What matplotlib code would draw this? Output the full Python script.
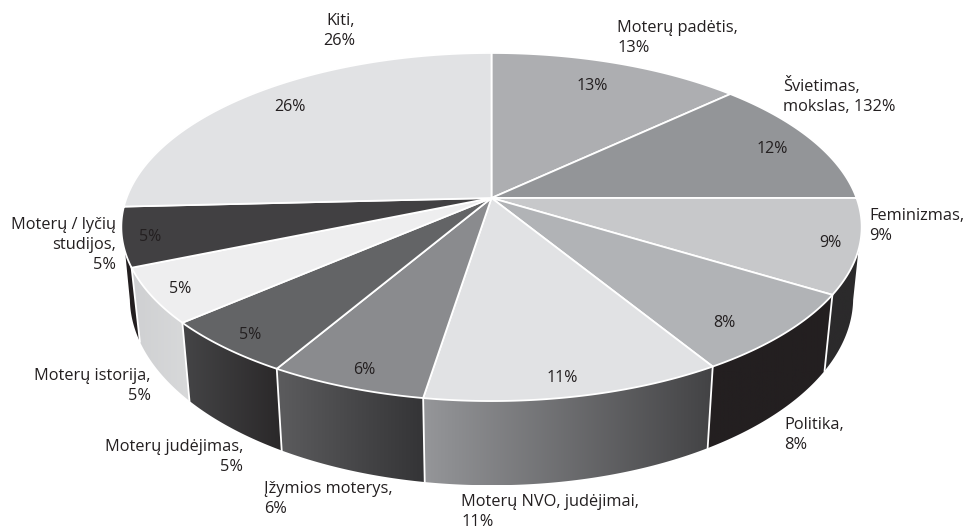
import numpy as np
import matplotlib
matplotlib.use('Agg')
import matplotlib.pyplot as plt
from matplotlib.patches import Polygon

plt.rcParams['font.family'] = ['Open Sans', 'DejaVu Sans']

# printed labels
names = ['Moterų padėtis,\n13%', 'Švietimas,\nmokslas, 132%', 'Feminizmas,\n9%',
         'Politika,\n8%', 'Moterų NVO, judėjimai,\n11%', 'Įžymios moterys,\n6%',
         'Moterų judėjimas,\n5%', 'Moterų istorija,\n5%', 'Moterų / lyčių\nstudijos,\n5%',
         'Kiti,\n26%']
inner = ['13%', '12%', '9%', '8%', '11%', '6%', '5%', '5%', '5%', '26%']
# slice sizes as drawn (a bit off the rounded labels)
shares = [13.0, 12.0, 8.75, 7.55, 11.2, 5.9, 5.2, 5.1, 5.5, 25.8]

top_colors = ['#adaeb1', '#939598', '#c7c8ca', '#b1b3b6', '#e1e2e4',
              '#8a8b8e', '#636466', '#eeeeef', '#414042', '#e1e2e4']
side_left = ['#a8a9ac', '#939598', '#2b2a2b', '#231f20', '#959699',
             '#5c5c5e', '#454547', '#cfd0d2', '#231f20', '#e1e2e4']
side_right = ['#a8a9ac', '#939598', '#2b2a2b', '#231f20', '#434345',
              '#343436', '#2a2829', '#d8d9da', '#231f20', '#e1e2e4']

# text anchors
label_xy = [(617, 38), (783, 96), (869, 226), (784, 435), (461, 512),
            (264, 499), (243, 457), (151, 386), (116, 245), (355, 31)]
label_ha = ['left', 'left', 'left', 'left', 'left',
            'left', 'right', 'right', 'right', 'right']
inner_xy = [(592, 86), (772, 149), (830, 243), (724, 323), (562, 378),
            (364, 370), (250, 335), (180, 289), (150, 237), (290, 107)]

# pie seen in perspective: centre point, radii, tilt
cx, cy = 491.5, 198.0
rx, ry, k = 365.0, 169.2, 1 / 6
scale_x, scale_y, drop = 0.977, 1.077, 68.6
# angle range of the wall: top rim ends / lower rim ends (straight silhouette between)
wall_top = (1.867, 4.405)
wall_low = (1.75, 4.533)


def project(ang):
    X = np.sin(ang)
    Y = np.cos(ang)
    d = 1 + k * Y
    return rx * X / d, ry * Y / d


def top_rim(ang):
    x, y = project(ang)
    return cx + x, cy - y


def low_rim(ang):
    x, y = project(ang)
    return cx + scale_x * x, cy + drop - scale_y * y


fig = plt.figure(figsize=(9.66, 5.31), dpi=100)
ax = fig.add_axes([0, 0, 1, 1])
ax.set_xlim(0, 966)
ax.set_ylim(531, 0)
ax.axis('off')
ax.set_autoscale_on(False)

edges = np.cumsum([0] + shares) / 100 * 2 * np.pi

# side wall
for i in range(len(shares)):
    a0, a1 = edges[i], edges[i + 1]
    if a1 <= wall_low[0] or a0 >= wall_top[1]:
        continue
    t_top = np.linspace(max(a0, wall_top[0]), min(a1, wall_top[1]), 80)
    t_low = np.linspace(max(a0, wall_low[0]), min(a1, wall_low[1]), 80)
    tx, ty = top_rim(t_top)
    bx, by = low_rim(t_low)
    pts = np.vstack([np.column_stack([tx, ty]), np.column_stack([bx, by])[::-1]])
    poly = Polygon(pts, closed=True, fc='none', ec='none')
    ax.add_patch(poly)
    c0 = np.array(matplotlib.colors.to_rgb(side_left[i]))
    c1 = np.array(matplotlib.colors.to_rgb(side_right[i]))
    grad = np.linspace(0, 1, 128)[None, :, None]
    img = c0 + (c1 - c0) * grad
    im = ax.imshow(img, extent=(pts[:, 0].min(), pts[:, 0].max(), pts[:, 1].max(), pts[:, 1].min()),
                   aspect='auto', zorder=1)
    im.set_clip_path(poly)
    # white seam between panels
    if a0 > wall_top[0]:
        ax.plot([tx[0], bx[0]], [ty[0], by[0]], color='white', lw=1.3, zorder=2)

# top face
for i in range(len(shares)):
    t = np.linspace(edges[i], edges[i + 1], 120)
    x, y = top_rim(t)
    pts = np.vstack([[cx, cy], np.column_stack([x, y])])
    ax.add_patch(Polygon(pts, closed=True, fc=top_colors[i], ec='white', lw=1.3,
                         joinstyle='round', zorder=3))

# labels inside slices
for i in range(len(inner)):
    ax.text(inner_xy[i][0], inner_xy[i][1], inner[i], ha='center', va='center',
            fontsize=11.5, color='#231f20', zorder=4)

# labels outside
for i in range(len(names)):
    ax.text(label_xy[i][0], label_xy[i][1], names[i], ha=label_ha[i], va='center',
            multialignment=label_ha[i], fontsize=11.8, color='#231f20',
            linespacing=1.35, zorder=4)

fig.savefig('out.png', dpi=100)
